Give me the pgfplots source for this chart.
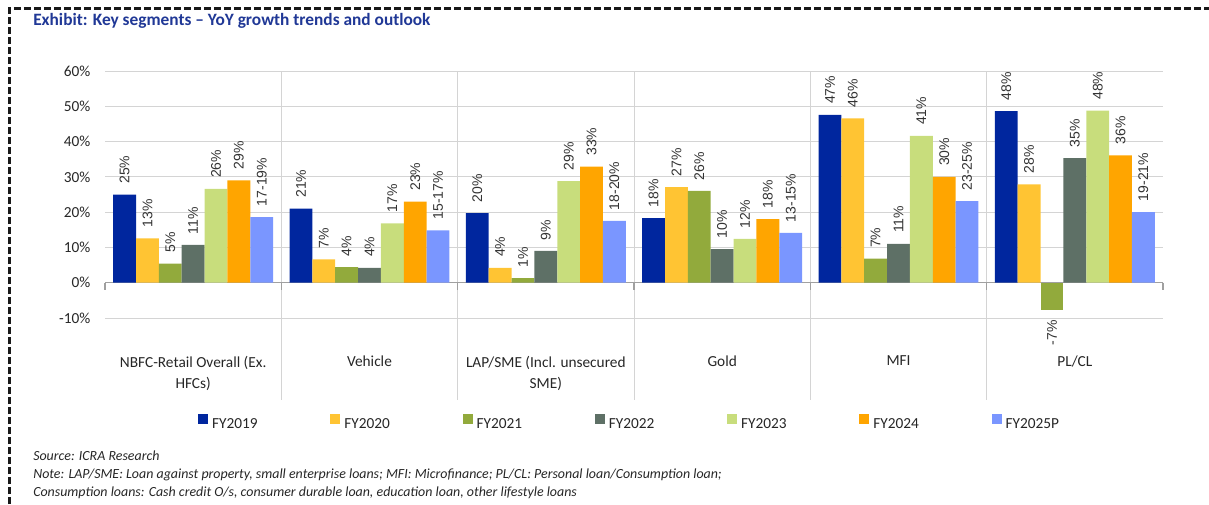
\documentclass[border=0pt]{standalone}
\usepackage{fontspec}
\setmainfont{Carlito}
\newfontfamily\labfont{Liberation Sans}
\usepackage{pgfplots}
\pgfplotsset{compat=1.18}
\definecolor{c19}{RGB}{0,38,158}
\definecolor{c20}{RGB}{255,196,51}
\definecolor{c21}{RGB}{146,170,60}
\definecolor{c22}{RGB}{94,112,102}
\definecolor{c23}{RGB}{200,221,124}
\definecolor{c24}{RGB}{255,165,0}
\definecolor{c25}{RGB}{122,150,255}
\definecolor{gridgray}{RGB}{212,212,212}
\definecolor{zerogray}{RGB}{160,160,160}
\definecolor{titleblue}{RGB}{32,56,150}
\begin{document}
\begin{tikzpicture}[x=0.75pt,y=0.75pt]
\useasboundingbox (0,0) rectangle (1209,504);
\draw[black!90, line width=1.6pt, dash pattern=on 5.5pt off 2pt] (9.5,0) -- (9.5,495.5) -- (1209,495.5);
\node[anchor=base west, inner sep=0pt, font=\fontsize{13}{15}\selectfont\bfseries, text=titleblue] at (33,478) {Exhibit: Key segments – YoY growth trends and outlook};
\begin{axis}[
  at={(78.75pt,139.5pt)}, anchor=south west,
  scale only axis, width=793.5pt, height=185.25pt,
  xmin=-0.5, xmax=5.5, ymin=-10, ymax=60,
  clip=false,
  axis line style={draw=none},
  major tick length=0pt,
  ytick={-10,0,10,20,30,40,50,60},
  yticklabels={-10\%,0\%,10\%,20\%,30\%,40\%,50\%,60\%},
  ymajorgrids, grid style={gridgray, line width=0.6pt},
  xtick={0,...,5},
  xticklabels={{NBFC-Retail Overall (Ex.\\HFCs)}, Vehicle, {LAP/SME (Incl. unsecured\\SME)}, Gold, MFI, PL/CL},
  xticklabel style={font=\fontsize{11.5}{15.75}\selectfont, text=black!85, align=center, anchor=north, yshift=-25pt},
  yticklabel style={font=\fontsize{11.5}{13}\selectfont, text=black!85, anchor=east, xshift=-7.5pt},
  ybar,
  bar width=0.1296,
  point meta=explicit symbolic,
  nodes near coords,
  nodes near coords style={rotate=90, anchor=west, inner xsep=8pt, inner ysep=0pt, font=\labfont\fontsize{10.5}{12}\selectfont, text=black!80},
  legend columns=7,
  legend cell align=left,
  legend image code/.code={\fill[#1] (0pt,0pt) rectangle (7.5pt,7.5pt);},
  legend style={at={(0.0879,-0.425)}, anchor=west, draw=none, fill=none, inner sep=0pt, outer sep=0pt, column sep=0pt,
    font=\fontsize{11.5}{13}\selectfont, nodes={inner xsep=3pt, inner ysep=1pt, text=black!85}},
]
\pgfplotsinvokeforeach{0.5,1.5,2.5,3.5,4.5}{
  \draw[gridgray, line width=0.6pt] (axis cs:#1,60) -- (axis cs:#1,-33.2);
}
\draw[zerogray, line width=0.8pt] (axis cs:-0.5,0) -- (axis cs:5.5,0);
\pgfplotsinvokeforeach{-0.5,0.5,1.5,2.5,3.5,4.5,5.5}{
  \draw[zerogray, line width=0.8pt] (axis cs:#1,0) -- (axis cs:#1,-2);
}
\addplot[fill=c19, draw=none, bar shift=-0.3888] coordinates {(0,25)[25\%] (1,21.0)[21\%] (2,19.7)[20\%] (3,18.3)[18\%] (4,47.6)[47\%] (5,48.6)[48\%]};
\addlegendentry{\makebox[85.7pt][l]{FY2019}}
\addplot[fill=c20, draw=none, bar shift=-0.2592] coordinates {(0,12.6)[13\%] (1,6.6)[7\%] (2,4.2)[4\%] (3,27.1)[27\%] (4,46.6)[46\%] (5,27.9)[28\%]};
\addlegendentry{\makebox[85.7pt][l]{FY2020}}
\addplot[fill=c21, draw=none, bar shift=-0.1296] coordinates {(0,5.4)[5\%] (1,4.4)[4\%] (2,1.3)[1\%] (3,26.0)[26\%] (4,6.8)[7\%]};
\addlegendentry{\makebox[85.7pt][l]{FY2021}}
\addplot[fill=c21, draw=none, bar shift=-0.1296, forget plot, nodes near coords style={anchor=east}] coordinates {(5,-7.6)[-7\%]};
\addplot[fill=c22, draw=none, bar shift=0] coordinates {(0,10.7)[11\%] (1,4.2)[4\%] (2,9.0)[9\%] (3,9.5)[10\%] (4,11.0)[11\%] (5,35.3)[35\%]};
\addlegendentry{\makebox[85.7pt][l]{FY2022}}
\addplot[fill=c23, draw=none, bar shift=0.1296] coordinates {(0,26.6)[26\%] (1,16.8)[17\%] (2,28.8)[29\%] (3,12.4)[12\%] (4,41.6)[41\%] (5,48.8)[48\%]};
\addlegendentry{\makebox[85.7pt][l]{FY2023}}
\addplot[fill=c24, draw=none, bar shift=0.2592] coordinates {(0,29.0)[29\%] (1,23.0)[23\%] (2,32.9)[33\%] (3,18.0)[18\%] (4,30.0)[30\%] (5,36.1)[36\%]};
\addlegendentry{\makebox[85.7pt][l]{FY2024}}
\addplot[fill=c25, draw=none, bar shift=0.3888] coordinates {(0,18.6)[17-19\%] (1,14.8)[15-17\%] (2,17.5)[18-20\%] (3,14.1)[13-15\%] (4,23.1)[23-25\%] (5,20.0)[19-21\%]};
\addlegendentry{\makebox[85.7pt][l]{FY2025P}}
\end{axis}
\node[anchor=base west, inner sep=0pt, font=\fontsize{10.45}{12}\selectfont\itshape, text=black!85] at (33,44) {Source: ICRA Research};
\node[anchor=base west, inner sep=0pt, font=\fontsize{10.45}{12}\selectfont\itshape, text=black!85] at (33,26) {Note: LAP/SME: Loan against property, small enterprise loans; MFI: Microfinance; PL/CL: Personal loan/Consumption loan;};
\node[anchor=base west, inner sep=0pt, font=\fontsize{10.45}{12}\selectfont\itshape, text=black!85] at (33,8) {Consumption loans: Cash credit O/s, consumer durable loan, education loan, other lifestyle loans};
\end{tikzpicture}
\end{document}
